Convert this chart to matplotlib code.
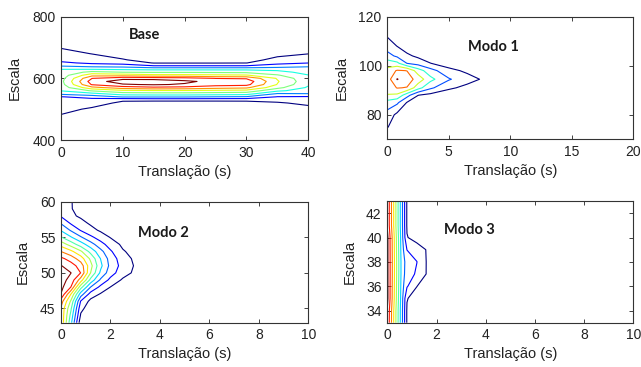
import matplotlib.pyplot as plt
import numpy as np

plt.rcParams['font.family'] = ['Liberation Sans', 'DejaVu Sans']

# ---- Base ----
base_x = [0, 5, 10, 15, 20, 25, 30, 35, 40]
base_y = [400, 460, 500, 520, 530, 540, 550, 560, 570, 580, 590,
          600, 610, 620, 630, 640, 650, 660, 680, 700, 800]
base_z = [
    [0.1, 0.05, 0, 0, 0, 0, 0, 0, 0.1],
    [0.6, 0.3, 0.1, 0.1, 0.1, 0.1, 0.1, 0.15, 0.5],
    [1.3, 0.85, 0.5, 0.3, 0.3, 0.3, 0.35, 0.5, 0.7],
    [1.6, 1.4, 0.8, 0.5, 0.5, 0.5, 0.55, 0.9, 1.2],
    [1.75, 1.6, 1.15, 1.3, 1.3, 1.3, 1.3, 1.3, 1.6],
    [1.95, 2.4, 3.1, 3.1, 3.1, 2.98, 2.9, 1.95, 1.9],
    [3.26, 3.7, 4.5, 4.6, 4.6, 4.5, 4.4, 2.9, 2.98],
    [4.05, 5.1, 5.8, 5.9, 5.9, 5.8, 5.7, 4.2, 3.5],
    [4.4, 6.7, 7.5, 7.8, 7.7, 7.4, 7.2, 5.3, 3.85],
    [4.6, 8.1, 8.9, 9.1, 8.9, 8.4, 8.3, 5.95, 4.15],
    [4.7, 8.5, 9.55, 9.6, 9.2, 8.7, 8.6, 6.1, 4.3],
    [4.6, 7.98, 8.7, 8.6, 8.4, 7.98, 7.9, 5.9, 4.2],
    [4.45, 6.7, 6.6, 6.3, 6.3, 6.2, 6.1, 5.1, 4.05],
    [4.25, 5.3, 4.98, 4.9, 4.9, 4.85, 4.8, 4.4, 3.6],
    [3.98, 3.9, 3.8, 3.7, 3.7, 3.7, 3.7, 3.6, 3.3],
    [2.98, 2.7, 2.6, 2.1, 2.1, 2.1, 2.1, 2.5, 2.9],
    [2.2, 1.8, 1.6, 0.95, 0.95, 0.95, 0.98, 1.7, 1.98],
    [1.7, 1.4, 1.05, 0.7, 0.7, 0.7, 0.75, 1.2, 1.6],
    [1.3, 0.98, 0.7, 0.5, 0.5, 0.5, 0.55, 0.8, 0.98],
    [0.95, 0.7, 0.5, 0.35, 0.35, 0.35, 0.4, 0.5, 0.8],
    [0.2, 0.1, 0.05, 0.05, 0.05, 0.05, 0.05, 0.1, 0.2],
]
base_levels = [1, 2, 3, 4, 5, 6, 7, 8, 9]

# ---- Modo 1 ----
m1_x = [0, 0.8, 1.6, 2.5, 3.5, 5, 6.5, 8, 10, 20]
m1_y = [70, 75, 80, 85, 88, 91, 94.5, 98, 101, 104, 108, 112, 120]
m1_z = [
    [0.3, 0.2, 0.1, 0.05, 0.05, 0, 0, 0, 0, 0],
    [1.05, 0.5, 0.2, 0.1, 0.05, 0, 0, 0, 0, 0],
    [1.6, 0.75, 0.3, 0.15, 0.1, 0.05, 0, 0, 0, 0],
    [2.6, 2.2, 0.95, 0.4, 0.2, 0.1, 0.05, 0, 0, 0],
    [3.95, 3.8, 2.4, 1.02, 0.7, 0.3, 0.1, 0.05, 0, 0],
    [4.4, 5.05, 4.95, 3.4, 2.2, 1.2, 0.7, 0.3, 0.1, 0],
    [4.5, 6.05, 5.5, 4.6, 3.3, 2.1, 1.4, 0.8, 0.2, 0],
    [4.35, 5.1, 4.98, 3.5, 2.4, 1.3, 0.8, 0.3, 0.1, 0],
    [3.5, 3.25, 1.98, 1.6, 1.02, 0.5, 0.2, 0.05, 0, 0],
    [2.4, 1.8, 1.2, 0.8, 0.5, 0.2, 0.05, 0, 0, 0],
    [1.5, 0.98, 0.5, 0.3, 0.2, 0.05, 0, 0, 0, 0],
    [0.95, 0.6, 0.3, 0.15, 0.1, 0, 0, 0, 0, 0],
    [0.4, 0.3, 0.1, 0.05, 0, 0, 0, 0, 0, 0],
]
m1_levels = [1, 2, 3, 4, 5, 6]

# ---- Modo 2 ----
m2_x = [0, 0.4, 0.8, 1.2, 1.6, 2.0, 2.5, 3.0, 4.0, 10]
m2_y = [43, 44, 45, 46, 47, 48, 49, 50, 51, 52, 53, 54, 55, 56, 57, 58, 59, 60]
m2_z = [
    [7.9, 4.3, 0.3, 0.1, 0.05, 0, 0, 0, 0, 0],
    [7.85, 4.7, 0.85, 0.3, 0.15, 0.05, 0, 0, 0, 0],
    [7.85, 5.17, 1.29, 0.4, 0.2, 0.1, 0.05, 0, 0, 0],
    [8.5, 5.83, 1.91, 0.7, 0.4, 0.25, 0.1, 0.05, 0, 0],
    [9.95, 6.98, 3.5, 1.55, 0.9, 0.55, 0.3, 0.15, 0.05, 0],
    [10.3, 8.98, 5.38, 2.98, 1.73, 0.98, 0.5, 0.25, 0.1, 0],
    [10.4, 9.66, 7.5, 4.67, 2.83, 1.73, 0.85, 0.5, 0.2, 0],
    [10.4, 10.02, 8.98, 5.98, 3.8, 2.43, 1.42, 0.8, 0.35, 0],
    [10.05, 9.46, 8.55, 6.33, 4.25, 2.71, 1.62, 0.9, 0.4, 0],
    [9.25, 8.56, 7.5, 5.78, 3.98, 2.57, 1.45, 0.8, 0.35, 0],
    [8.0, 7.27, 6.17, 4.67, 3.33, 2.14, 1.1, 0.65, 0.3, 0],
    [6.6, 5.57, 4.5, 3.43, 2.38, 1.55, 0.8, 0.5, 0.2, 0],
    [5.1, 4.1, 3.12, 2.22, 1.54, 0.95, 0.6, 0.35, 0.1, 0],
    [3.9, 2.88, 1.92, 1.31, 0.85, 0.6, 0.35, 0.2, 0.05, 0],
    [2.9, 1.86, 1.29, 0.85, 0.6, 0.4, 0.2, 0.1, 0, 0],
    [1.9, 1.18, 0.85, 0.6, 0.4, 0.25, 0.1, 0.05, 0, 0],
    [1.7, 1.05, 0.7, 0.45, 0.3, 0.2, 0.1, 0, 0, 0],
    [1.5, 1.05, 0.65, 0.4, 0.25, 0.15, 0.05, 0, 0, 0],
]
m2_levels = [1, 2, 3, 4, 5, 6, 7, 8, 9, 10]

# ---- Modo 3 ----
m3_x = [0, 0.6, 0.8, 1.2, 1.6, 2.5, 10]
m3_y = [33, 34, 35, 36, 37, 38, 39, 40, 41, 42, 43]
m3_z = [
    [9.9, 3.2, 0.9, 0.5, 0.3, 0.1, 0],
    [9.95, 3.2, 0.9, 0.5, 0.3, 0.1, 0],
    [10.3, 3.3, 1.05, 0.6, 0.3, 0.1, 0],
    [10.3, 3.4, 2.1, 1.02, 0.5, 0.1, 0],
    [10.3, 3.5, 2.5, 1.85, 0.95, 0.3, 0],
    [10.3, 3.5, 2.6, 2.02, 0.95, 0.3, 0],
    [10.3, 3.4, 1.98, 1.5, 0.95, 0.3, 0],
    [10.3, 3.3, 1.05, 0.6, 0.3, 0.1, 0],
    [9.9, 3.2, 0.9, 0.5, 0.3, 0.1, 0],
    [9.9, 3.2, 0.9, 0.5, 0.3, 0.1, 0],
    [9.9, 3.2, 0.9, 0.5, 0.3, 0.1, 0],
]
m3_levels = [1, 2, 3, 4, 5, 6, 7, 8, 9, 10]

titles = ['Base', 'Modo 1', 'Modo 2', 'Modo 3']
xlims = [(0, 40), (0, 20), (0, 10), (0, 10)]
ylims = [(400, 800), (70, 120), (43, 60), (33, 43)]
xticks = [[0, 10, 20, 30, 40], [0, 5, 10, 15, 20],
          [0, 2, 4, 6, 8, 10], [0, 2, 4, 6, 8, 10]]
yticks = [[400, 600, 800], [80, 100, 120], [45, 50, 55, 60], [34, 36, 38, 40, 42]]
title_pos = [(11.0, 741), (6.6, 107.8), (3.1, 55.6), (2.32, 40.6)]

panels = [(base_x, base_y, base_z, base_levels),
          (m1_x, m1_y, m1_z, m1_levels),
          (m2_x, m2_y, m2_z, m2_levels),
          (m3_x, m3_y, m3_z, m3_levels)]

# axes boxes in pixels: left, top, right, bottom
W, H = 641, 367
boxes = [(61, 16.7, 308.3, 140), (387.3, 16.7, 633.3, 139.3),
         (61, 201.7, 308.3, 322.7), (387.3, 201, 633.3, 322.7)]
ylabel_x = [-0.16, -0.158, -0.126, -0.125]

fig = plt.figure(figsize=(W / 100, H / 100), dpi=100)
for i in range(4):
    l, t, r, b = boxes[i]
    ax = fig.add_axes([l / W, 1 - b / H, (r - l) / W, (b - t) / H])
    x, y, z, lev = panels[i]
    ax.contour(np.array(x), np.array(y), np.array(z), levels=lev,
               cmap='jet', linewidths=0.8)
    ax.set_xlim(xlims[i])
    ax.set_ylim(ylims[i])
    ax.set_xticks(xticks[i])
    ax.set_yticks(yticks[i])
    ax.tick_params(direction='in', top=True, right=True, length=3,
                   width=0.6, labelsize=10, pad=4, colors='#222222')
    for s in ax.spines.values():
        s.set_linewidth(0.8)
        s.set_color('#333333')
    ax.set_xlabel('Translação (s)', fontsize=10.5, color='#222222')
    ax.set_ylabel('Escala', fontsize=10.5, color='#222222')
    ax.xaxis.set_label_coords(0.5, -0.2)
    ax.yaxis.set_label_coords(ylabel_x[i], 0.5)
    ax.text(title_pos[i][0], title_pos[i][1], titles[i], family=['Lato', 'DejaVu Sans'],
            fontweight='bold', fontsize=10.5, va='center', ha='left', color='#1a1a1a')

fig.savefig('out.png', dpi=100)
print('done')
